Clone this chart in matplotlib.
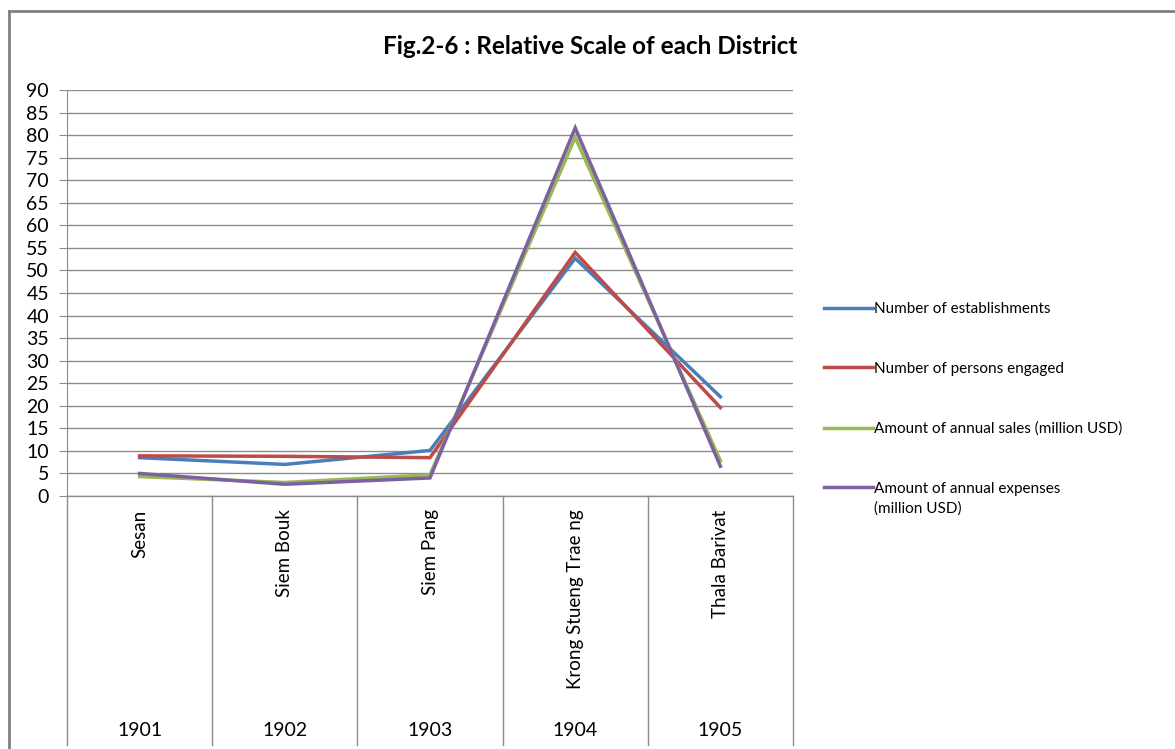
import numpy as np
import matplotlib.pyplot as plt
from matplotlib.lines import Line2D

# districts and years
districts = ["Sesan", "Siem Bouk", "Siem Pang", "Krong Stueng Trae ng", "Thala Barivat"]
years = ["1901", "1902", "1903", "1904", "1905"]

# relative scale of each district
establishments = [8.5, 7.0, 10.1, 52.7, 22.0]
persons = [8.9, 8.8, 8.5, 54.0, 19.6]
sales = [4.3, 3.0, 4.7, 79.5, 7.8]
expenses = [5.0, 2.6, 4.0, 81.6, 6.6]

series = [establishments, persons, sales, expenses]
names = ["Number of establishments", "Number of persons engaged",
         "Amount of annual sales (million USD)",
         "Amount of annual expenses"]
colors = ["#4A7EBB", "#BE4B48", "#98B954", "#7D60A0"]

plt.rcParams['font.family'] = ['Lato', 'DejaVu Sans']

fig = plt.figure(figsize=(11.75, 7.49), dpi=100)
ax = fig.add_axes([67/1175, 1-496/749, 726/1175, 406/749])

x = np.arange(len(districts))
for vals, c, n in zip(series, colors, names):
    ax.plot(x, vals, color=c, lw=2.5, label=n, solid_joinstyle='miter')

ax.set_xlim(-0.5, len(districts)-0.5)
ax.set_ylim(0, 90)
ax.set_yticks(np.arange(0, 91, 5))
ax.yaxis.grid(True, color="#8c8c8c", lw=1.0)
ax.set_axisbelow(True)
ax.set_xticks([])
for s in ["top", "right", "bottom"]:
    ax.spines[s].set_visible(False)
ax.spines["left"].set_color("#8c8c8c")
ax.tick_params(axis='y', length=6, color="#8c8c8c", labelsize=14, pad=7)

# category table below the plot
trans = ax.get_xaxis_transform()
for b in np.arange(-0.5, len(districts), 1.0):
    ax.add_line(Line2D([b, b], [0, -0.613], transform=trans, color="#8c8c8c", lw=1.0, clip_on=False))
ax.add_line(Line2D([-0.5, len(districts)-0.5], [0, 0], transform=trans, color="#8c8c8c", lw=1.0, clip_on=False))
for i, (d, yr) in enumerate(zip(districts, years)):
    ax.text(i, -0.033, d, transform=trans, rotation=90, ha='center', va='top', fontsize=13.5)
    ax.text(i, -0.577, yr, transform=trans, ha='center', va='center', fontsize=14)

leg = ax.legend(loc='upper left', bbox_to_anchor=(824/1175, 1-302/749), bbox_transform=fig.transFigure,
                frameon=False, fontsize=11, handlelength=3.2, handletextpad=0.1,
                labelspacing=3.0, borderaxespad=0, borderpad=0)

fig.text(0.502, 1-47/749, "Fig.2-6 : Relative Scale of each District", ha='center', va='center',
         fontsize=17.5, fontweight='bold')

# second line of the last legend label
fig.canvas.draw()
bb = leg.get_texts()[3].get_window_extent()
fig.text(bb.x0/fig.bbox.width, (bb.y0 - 6)/fig.bbox.height, "(million USD)", ha='left', va='top', fontsize=11)

# outer frame
fig.add_artist(Line2D([9/1175, 9/1175], [0, 1-11/749], transform=fig.transFigure, color="#808080", lw=2))
fig.add_artist(Line2D([9/1175, 1], [1-11/749, 1-11/749], transform=fig.transFigure, color="#808080", lw=2))

fig.savefig("out.png", dpi=100)
